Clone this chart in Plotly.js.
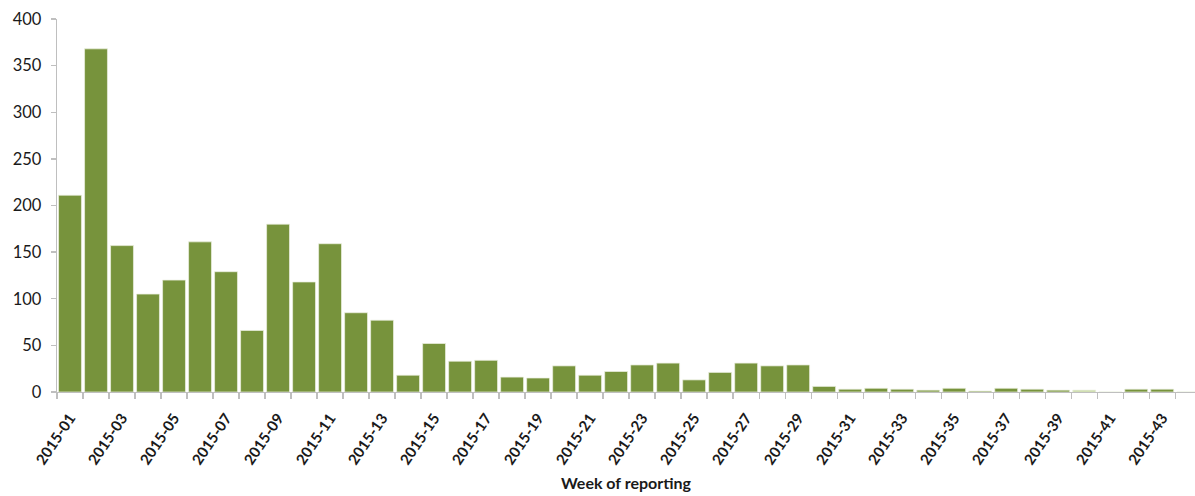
<!DOCTYPE html>
<html>
<head>
<meta charset="utf-8">
<script src="https://cdn.plot.ly/plotly-3.0.1.min.js"></script>
<style>html,body{margin:0;padding:0;background:#fff;}#chart{width:1195px;height:496px;}</style>
</head>
<body>
<div id="chart"></div>
<script>
const weeks = ['2015-01','2015-02','2015-03','2015-04','2015-05','2015-06','2015-07','2015-08','2015-09','2015-10',
  '2015-11','2015-12','2015-13','2015-14','2015-15','2015-16','2015-17','2015-18','2015-19','2015-20',
  '2015-21','2015-22','2015-23','2015-24','2015-25','2015-26','2015-27','2015-28','2015-29','2015-30',
  '2015-31','2015-32','2015-33','2015-34','2015-35','2015-36','2015-37','2015-38','2015-39','2015-40',
  '2015-41','2015-42','2015-43','2015-44'];
const cases = [211, 368, 157, 105, 120, 161, 129, 66, 180, 118,
  159, 85, 77, 18, 52, 33, 34, 16, 15, 28,
  18, 22, 29, 31, 13, 21, 31, 28, 29, 6,
  3, 4, 3, 2, 4, 1, 4, 3, 2, 2,
  0, 3, 3, 0];
const labelledWeeks = ['2015-01','2015-03','2015-05','2015-07','2015-09','2015-11','2015-13','2015-15','2015-17','2015-19',
  '2015-21','2015-23','2015-25','2015-27','2015-29','2015-31','2015-33','2015-35','2015-37','2015-39','2015-41','2015-43'];
const yTicks = [0, 50, 100, 150, 200, 250, 300, 350, 400];

const xIdx = weeks.map((w, i) => i);
const barColors = weeks.map(w => w === '2015-40' ? '#c3d69b' : '#77933c');
const tickPos = labelledWeeks.map(w => weeks.indexOf(w));

const trace = {
  type: 'bar',
  x: xIdx,
  y: cases,
  marker: {color: barColors, line: {color: 'rgba(235,240,225,0.9)', width: 0.8}},
  hoverinfo: 'y'
};

const layout = {
  width: 1195, height: 496,
  margin: {l: 57, r: 0, t: 19, b: 104.3, pad: 0},
  paper_bgcolor: '#ffffff', plot_bgcolor: '#ffffff',
  bargap: 0.12,
  showlegend: false,
  font: {family: 'Lato, "Open Sans", sans-serif', color: '#1a1a1a'},
  xaxis: {
    type: 'linear',
    range: [-0.5, 43.26],
    showgrid: false, zeroline: false,
    showline: true, linecolor: '#bfbfbf', linewidth: 1.3,
    tickmode: 'array', tickvals: tickPos, ticktext: labelledWeeks,
    ticks: '', tickangle: -56,
    ticklabelstandoff: 10,
    tickfont: {size: 15, color: '#1a1a1a', weight: 'bold'},
    minor: {ticks: 'outside', tick0: -0.5, dtick: 1, ticklen: 6, tickcolor: '#bfbfbf', tickwidth: 1.3, showgrid: false},
    title: {text: 'Week of reporting', font: {size: 16, color: '#1a1a1a', weight: 'bold'}, standoff: 11},
    fixedrange: true
  },
  yaxis: {
    range: [0, 400],
    tickmode: 'array', tickvals: yTicks,
    showgrid: false, zeroline: false,
    showline: true, linecolor: '#bfbfbf', linewidth: 1.3,
    ticks: 'outside', ticklen: 5, tickcolor: '#bfbfbf', tickwidth: 1.3,
    tickfont: {size: 16.5, color: '#1a1a1a'},
    ticklabelstandoff: 6,
    fixedrange: true
  }
};

Plotly.newPlot('chart', [trace], layout, {displayModeBar: false, staticPlot: true});
</script>
</body>
</html>
